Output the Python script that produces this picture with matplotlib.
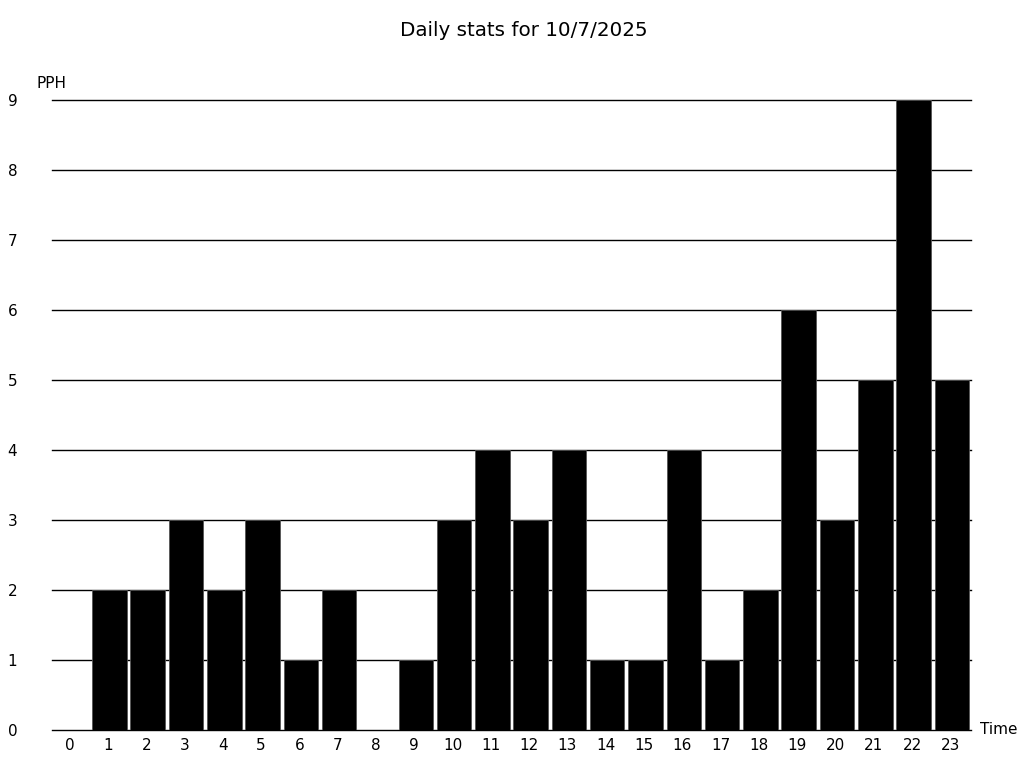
import matplotlib
matplotlib.use('Agg')
import matplotlib.pyplot as plt
import matplotlib.transforms as mtransforms

# Hourly counts
hours = list(range(24))
pph = [0, 2, 2, 3, 2, 3, 1, 2, 0, 1, 3, 4, 3, 4, 1, 1, 4, 1, 2, 6, 3, 5, 9, 5]
y_ticks = list(range(10))

fig = plt.figure(figsize=(10.24, 7.68), dpi=100)
ax = fig.add_axes([52 / 1024, 38 / 768, 919 / 1024, 630 / 768])

# Gridlines behind the bars
for v in y_ticks:
    ax.axhline(v, color='black', lw=1, zorder=1, clip_on=False)

ax.bar(hours, pph, width=0.9, color='black', edgecolor='#555555', linewidth=0.6, zorder=2)

ax.set_xlim(-0.5, 23.5)
ax.set_ylim(0, 9)
ax.set_xticks(hours)
ax.set_xticklabels([str(h) for h in hours], fontsize=11)
ax.set_yticks(y_ticks)
ax.set_yticklabels([str(v) for v in y_ticks], fontsize=11)
ax.tick_params(axis='both', length=0)
ax.tick_params(axis='y', pad=25)
ax.tick_params(axis='x', pad=6)
for s in ax.spines.values():
    s.set_visible(False)

# nudge hour labels slightly left, like the original
shift = mtransforms.ScaledTranslation(-1.5 / 100, 0, fig.dpi_scale_trans)
for lbl in ax.get_xticklabels():
    lbl.set_transform(lbl.get_transform() + shift)

fig.text(37 / 1024, 1 - 84 / 768, 'PPH', fontsize=11, va='center', ha='left')
fig.text(980 / 1024, 1 - 730 / 768, 'Time', fontsize=11, va='center', ha='left')
fig.text(524 / 1024, 1 - 30 / 768, 'Daily stats for 10/7/2025', fontsize=14.3, ha='center', va='center')

fig.savefig('out.png', dpi=100)
